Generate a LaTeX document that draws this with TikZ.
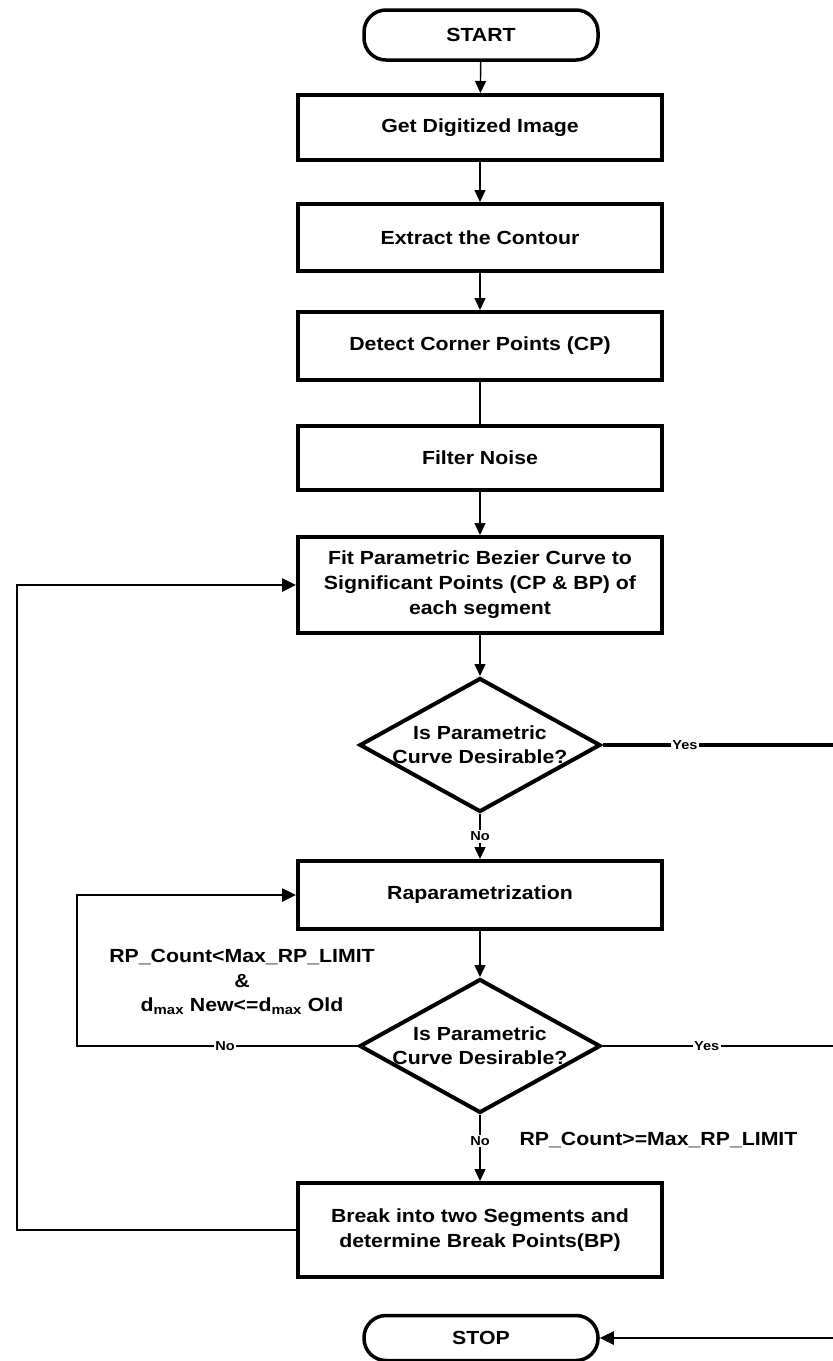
\documentclass[tikz,border=0pt]{standalone}
\usepackage{fontspec}
\setmainfont{Liberation Sans}[FakeStretch=1.12]
\usetikzlibrary{shapes.geometric,arrows.meta}

\begin{document}
\begin{tikzpicture}[x=1pt,y=-1pt,
  every node/.style={font=\fontsize{19}{25}\selectfont\bfseries},
  stepbox/.style={draw,line width=4pt,rectangle,minimum width=364,align=center,inner sep=2pt},
  terminal/.style={draw,line width=3.5pt,rounded corners=22pt,minimum width=234,minimum height=50},
  decision/.style={draw,shape=diamond,line width=4pt,minimum width=241,minimum height=134,inner sep=0pt},
  qtext/.style={align=center,inner sep=0pt,font=\fontsize{19}{24}\selectfont\bfseries},
  flow/.style={line width=1.4pt,-{Triangle[length=12pt,width=11pt]}},
  plain/.style={line width=1.4pt},
  loopline/.style={line width=2.6pt,-{Triangle[length=14pt,width=13pt]}},
  exitline/.style={line width=2.6pt},
  tag/.style={font=\fontsize{13}{15}\selectfont\bfseries,fill=white,inner sep=1.5pt},
  cond/.style={align=center,font=\fontsize{19}{24.5}\selectfont\bfseries}]

\useasboundingbox (0,0) rectangle (833,1361);
\clip (0,0) rectangle (833,1361);

% main column
\node[terminal] (start) at (481,35) {START};
\node[stepbox,minimum height=65] (b1) at (480,127.5) {Get Digitized Image};
\node[stepbox,minimum height=67] (b2) at (480,237.5) {Extract the Contour};
\node[stepbox,minimum height=68] (b3) at (480,346) {Detect Corner Points (CP)};
\node[stepbox,minimum height=64] (b4) at (480,458) {Filter Noise};
\node[stepbox,minimum height=96] (b5) at (480,585)
  {Fit Parametric Bezier Curve to\\Significant Points (CP \& BP) of\\each segment};
\node[decision] (d1) at (480,745) {};
\node[qtext] (q1) at (d1.center) {Is Parametric\\Curve Desirable?};
\node[stepbox,minimum height=68] (rp) at (480,895) {Raparametrization};
\node[decision] (d2) at (480,1046) {};
\node[qtext] (q2) at (d2.center) {Is Parametric\\Curve Desirable?};
\node[stepbox,minimum height=94] (brk) at (480,1230)
  {Break into two Segments and\\determine Break Points(BP)};
\node[terminal,minimum height=45] (stop) at (481,1338) {STOP};

% condition labels
\node[cond] (c1) at (242,982)
  {RP\_Count<Max\_RP\_LIMIT\\\&\\d\textsubscript{max} New<=d\textsubscript{max} Old};
\node[cond,anchor=west] (c2) at (516,1140) {RP\_Count>=Max\_RP\_LIMIT};

% helper coordinates for the return paths
\coordinate (lx) at (17,0);
\coordinate (mx) at (77,0);
\coordinate (rx) at (845,0);

% straight flow
\draw[flow] (start) -- (b1);
\draw[flow] (b1) -- (b2);
\draw[flow] (b2) -- (b3);
\draw[plain] (b3) -- (b4);
\draw[flow] (b4) -- (b5);
\draw[flow] (b5) -- (d1);
\draw[flow] (d1) -- node[tag] {No} (rp);
\draw[flow] (rp) -- (d2);
\draw[flow] (d2) -- node[tag,pos=0.4] {No} (brk);

% loops back
\draw[loopline] (d2.west) -| node[tag,pos=0.236] {No} (mx |- rp.west) -- (rp.west);
\draw[loopline] (brk.west) -| (lx |- b5.west) -- (b5.west);

% exits to STOP
\draw[exitline,line width=3.4pt] (d1.east) -- node[tag,pos=0.34] {Yes} (rx |- d1.east);
\draw[exitline] (d2.east) -- node[tag,pos=0.43] {Yes} (rx |- d2.east);
\draw[loopline] (rx |- d1.east) |- (stop.east);
\end{tikzpicture}
\end{document}
